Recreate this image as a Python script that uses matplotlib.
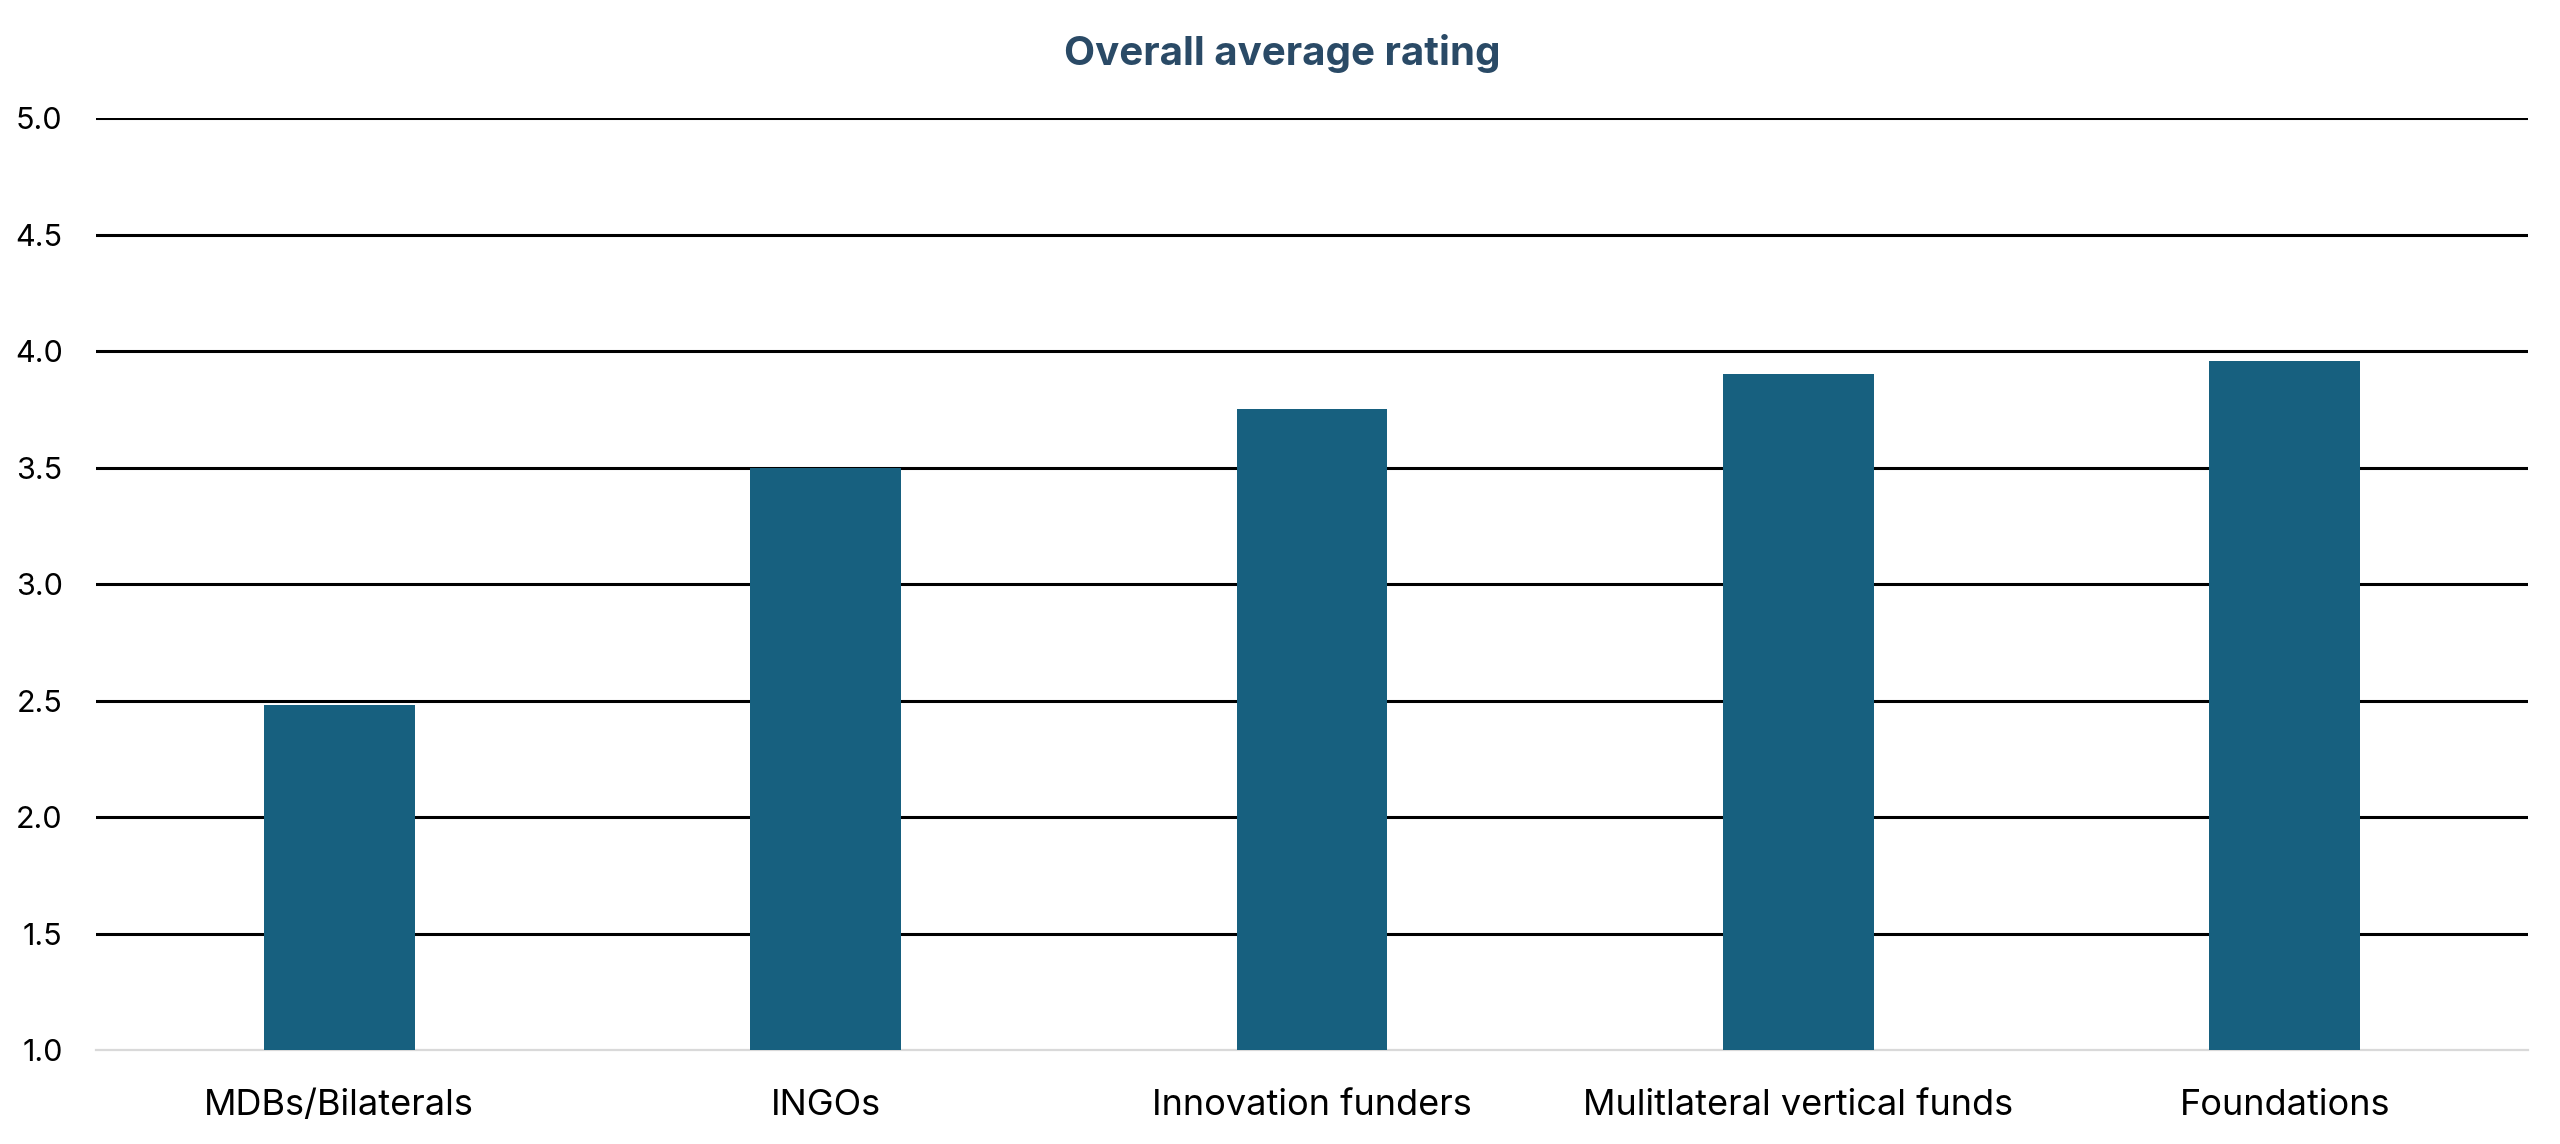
import matplotlib.pyplot as plt
import numpy as np

# Donnees
categories = ["MDBs/Bilaterals", "INGOs", "Innovation funders",
              "Mulitlateral vertical funds", "Foundations"]
ratings = [2.48, 3.50, 3.75, 3.90, 3.96]
y_ticks = [1.0, 1.5, 2.0, 2.5, 3.0, 3.5, 4.0, 4.5, 5.0]

bar_color = "#17607f"
title_color = "#2a4a66"

plt.rcParams['font.family'] = ['Inter', 'DejaVu Sans']

fig = plt.figure(figsize=(12.8, 5.72), dpi=200)
ax = fig.add_axes([0.0375, 0.0822, 0.95, 0.8144])

x = np.arange(len(categories))
ax.bar(x, ratings, width=0.31, color=bar_color, zorder=3)

ax.set_ylim(1.0, 5.0)
ax.set_xlim(-0.5, 4.5)
ax.set_yticks(y_ticks)
ax.set_yticklabels([f"{v:.1f}" for v in y_ticks], fontsize=11)
ax.set_xticks(x)
ax.set_xticklabels(categories, fontsize=13)

ax.tick_params(axis='y', length=0, pad=12)
ax.tick_params(axis='x', length=0, pad=14)

# Grille noire, ligne de base grise
ax.set_axisbelow(True)
ax.yaxis.grid(True, color="black", linewidth=1.1)
ax.yaxis.get_gridlines()[0].set_visible(False)
for side in ["top", "right", "left"]:
    ax.spines[side].set_visible(False)
ax.spines["bottom"].set_color("#d9d9d9")
ax.spines["bottom"].set_linewidth(0.8)

fig.text(0.501, 0.953, "Overall average rating", ha="center", va="center",
         fontsize=14.5, fontweight="bold", color=title_color)

fig.savefig("out.png", dpi=200)
